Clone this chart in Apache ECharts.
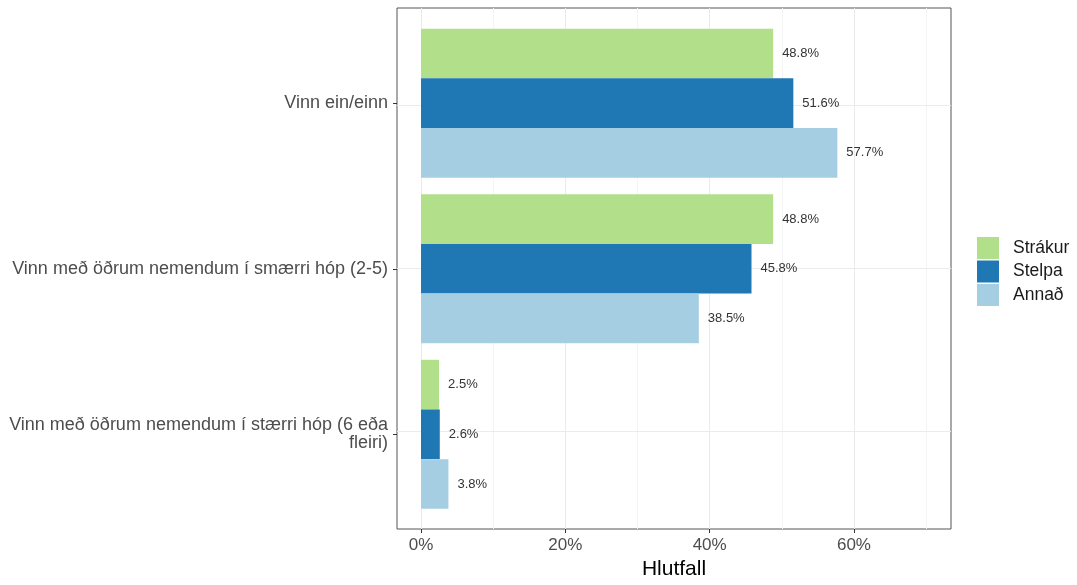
<!DOCTYPE html>
<html><head><meta charset="utf-8">
<script src="https://cdn.jsdelivr.net/npm/echarts@6/dist/echarts.min.js"></script>
<style>html,body{margin:0;padding:0;background:#fff}#c{width:1077px;height:585px}</style>
</head><body><div id="c"></div>
<script>
const categories = ['Vinn ein/einn', 'Vinn með öðrum nemendum í smærri hóp (2-5)', 'Vinn með öðrum nemendum í stærri hóp (6 eða\nfleiri)'];
const seriesNames = ['Strákur', 'Stelpa', 'Annað'];
const strakur = [48.8, 48.8, 2.5];
const stelpa = [51.6, 45.8, 2.6];
const annad = [57.7, 38.5, 3.8];
const xTickLabels = [0, 20, 40, 60];
const majorGrid = [0, 20, 40, 60];
const minorGrid = [10, 30, 50, 70];
const colors = ['#b2df8a', '#1f78b4', '#a6cee3'];
const values = [strakur, stelpa, annad];

const font = 'Liberation Sans, Arial, sans-serif';
const X_MIN = -3.33, X_MAX = 73.45;
// panel geometry
const P_LEFT = 397, P_RIGHT = 126, P_TOP = 8, P_BOTTOM = 55.5, H = 585;
const expand = 0.6; // discrete expansion (units)
const unit = (H - P_TOP - P_BOTTOM) / (categories.length + 2 * expand);
const pad = (expand - 0.5) * unit;

const gridLines = [];
minorGrid.forEach(v => gridLines.push({xAxis: v, lineStyle: {color: '#f4f4f4', width: 1, type: 'solid'}}));
majorGrid.forEach(v => gridLines.push({xAxis: v, lineStyle: {color: '#ebebeb', width: 1, type: 'solid'}}));
categories.forEach((c, i) => gridLines.push({yAxis: i, lineStyle: {color: '#ebebeb', width: 1, type: 'solid'}}));

const series = [{
  type: 'scatter', xAxisIndex: 0, yAxisIndex: 0, data: [], silent: true, z: 0,
  markLine: {silent: true, symbol: 'none', label: {show: false}, data: gridLines, animation: false, z: 0}
}].concat(seriesNames.map((n, i) => ({
  name: n, type: 'bar', data: values[i], xAxisIndex: 1, yAxisIndex: 1,
  itemStyle: {color: colors[i]},
  barGap: '0%', barCategoryGap: '10%',
  label: {show: true, position: 'right', distance: 9, formatter: p => p.value.toFixed(1) + '%',
    fontFamily: font, fontSize: 13, color: '#333'},
  z: 5
})));

const chart = echarts.init(document.getElementById('c'));
chart.setOption({
  animation: false,
  grid: [
    {left: P_LEFT, right: P_RIGHT, top: P_TOP, bottom: P_BOTTOM, show: true, borderColor: '#555', borderWidth: 1, backgroundColor: 'transparent', z: 0},
    {left: P_LEFT, right: P_RIGHT, top: P_TOP + pad, bottom: P_BOTTOM + pad}
  ],
  legend: {orient: 'vertical', left: 977, top: 237, padding: 0, itemWidth: 22, itemHeight: 22, itemGap: 1.5,
    icon: 'rect', data: seriesNames,
    textStyle: {fontFamily: font, fontSize: 17.5, color: '#1a1a1a', padding: [0, 0, 0, 9]}},
  xAxis: [
    {type: 'value', gridIndex: 0, min: X_MIN, max: X_MAX, position: 'bottom',
      name: 'Hlutfall', nameLocation: 'middle', nameGap: 30,
      nameTextStyle: {fontFamily: font, fontSize: 21, color: '#000'},
      axisLine: {show: false, onZero: false},
      splitLine: {show: false},
      axisTick: {show: true, length: 4, lineStyle: {color: '#333'}, customValues: xTickLabels},
      axisLabel: {customValues: xTickLabels, formatter: v => v + '%', fontFamily: font, fontSize: 17, color: '#4d4d4d', margin: 8}
    },
    {type: 'value', gridIndex: 1, min: X_MIN, max: X_MAX, show: false, axisLine: {onZero: false}, splitLine: {show: false}}
  ],
  yAxis: [
    {type: 'value', gridIndex: 0, min: -expand, max: categories.length - 1 + expand, inverse: true, show: false, axisLine: {onZero: false}, splitLine: {show: false}},
    {type: 'category', gridIndex: 1, data: categories, inverse: true, position: 'left',
      axisLine: {show: false, onZero: false},
      axisTick: {show: true, length: 4, alignWithLabel: true, lineStyle: {color: '#333'}},
      splitLine: {show: false},
      axisLabel: {fontFamily: font, fontSize: 18, color: '#4d4d4d', margin: 9, align: 'right', lineHeight: 18}
    }
  ],
  series: series
});
</script></body></html>
